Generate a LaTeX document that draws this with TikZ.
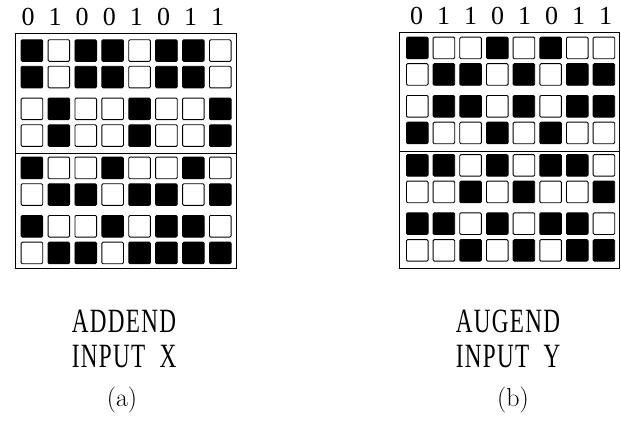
\documentclass[tikz,border=0pt]{standalone}
\usepackage{fontspec}
\newfontfamily\plainfont{Liberation Serif}
\newfontfamily\capfont[FakeStretch=0.68,LetterSpace=4,WordSpace=2]{Liberation Serif}
\usetikzlibrary{positioning}

\begin{document}
\begin{tikzpicture}
      [x=1pt,y=-1pt,
       cell/.style={draw,line width=0.9pt,rounded corners=1.2pt,inner sep=0pt,
         minimum size=21.6pt,anchor=north west},
       bit0/.style={cell,fill=white},
       bit1/.style={cell,fill=black},
       frame/.style={draw,line width=0.9pt},
       digit/.style={font=\plainfont\fontsize{26}{26}\selectfont,inner sep=0pt},
       caption/.style={font=\capfont\fontsize{34}{34.5}\selectfont,align=center,inner sep=0pt},
       tag/.style={font=\fontsize{26}{30}\selectfont,inner sep=0pt}]
        \useasboundingbox (0,0) rectangle (621,421);

        % addend, input x
        \draw[frame] (15,33) rectangle (236,268);
        \draw[frame] (15,153) -- (236,153);
        \foreach \d [count=\c] in {0,1,0,0,1,0,1,1}
          \node[digit] (xd\c) at ({28+27.1*(\c-1)},17) {\d};
        \foreach \r/\dy/\bits in {1/0/{1,0,1,1,0,1,1,0},
                                  2/26.5/{1,0,1,1,0,1,1,0},
                                  3/58.3/{0,1,0,0,1,0,0,1},
                                  4/85/{0,1,0,0,1,0,0,1},
                                  5/117.4/{1,0,0,1,0,0,1,0},
                                  6/144/{0,1,1,0,1,1,0,1},
                                  7/175.7/{1,0,0,1,0,1,1,0},
                                  8/202.4/{0,1,1,0,1,1,1,1}}
          \foreach \b [count=\c] in \bits
            \node[bit\b] (x-\r-\c) at ({20.7+26.9*(\c-1)},{39.3+\dy}) {};

        % augend, input y
        \draw[frame] (399,32) rectangle (619.3,268);
        \draw[frame] (399,151) -- (619.3,151);
        \foreach \d [count=\c] in {0,1,1,0,1,0,1,1}
          \node[digit] (yd\c) at ({416.7+27*(\c-1)},15.5) {\d};
        \foreach \r/\dy/\bits in {1/0/{1,0,0,1,0,1,0,0},
                                  2/26.5/{0,1,1,0,1,0,1,1},
                                  3/58.3/{0,1,1,0,1,0,1,1},
                                  4/85/{1,0,0,1,0,1,0,0},
                                  5/117.4/{1,1,0,1,0,1,1,0},
                                  6/144/{0,0,1,0,1,0,0,1},
                                  7/175.7/{1,1,0,1,0,1,1,0},
                                  8/202.4/{0,0,1,0,1,0,1,1}}
          \foreach \b [count=\c] in \bits
            \node[bit\b] (y-\r-\c) at ({406+26.67*(\c-1)},{36.7+\dy}) {};

        \node[caption] (addend) at (124,339) {ADDEND\\INPUT X};
        \node[caption] (augend) at (508,339) {AUGEND\\INPUT Y};
        \node[tag] (tagA) at (122,400) {(a)};
        \node[tag] (tagB) at (513,400) {(b)};
\end{tikzpicture}
\end{document}
